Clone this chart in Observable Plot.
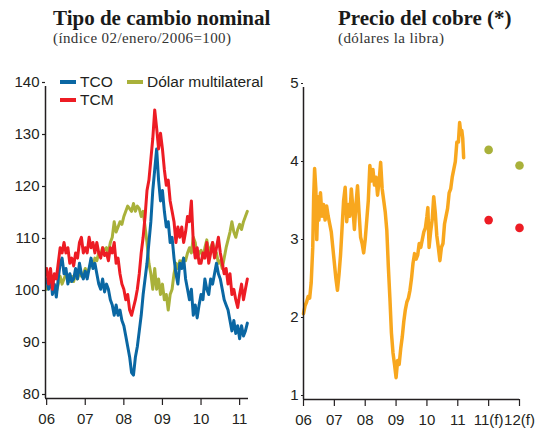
<!DOCTYPE html>
<html><head><meta charset="utf-8">
<script src="https://cdn.jsdelivr.net/npm/d3@7"></script>
<script src="https://cdn.jsdelivr.net/npm/@observablehq/plot@0.6"></script>
<style>
body{margin:0;background:#fff;width:547px;height:428px;overflow:hidden;position:relative;font-family:"Liberation Sans",sans-serif;}
.title{position:absolute;font-family:"Liberation Serif",serif;font-weight:bold;font-size:21px;line-height:21px;color:#1a1a1a;white-space:nowrap;}
.sub{position:absolute;font-family:"Liberation Serif",serif;font-size:15px;line-height:15px;letter-spacing:0.4px;color:#333;white-space:nowrap;}
#left{position:absolute;left:0;top:60px;}
#right{position:absolute;left:280px;top:60px;}
.leg{position:absolute;height:18px;line-height:18px;font-size:15.5px;color:#231f20;display:flex;align-items:center;white-space:nowrap;}
.sw{display:inline-block;width:16px;height:4px;margin-right:4px;}
</style></head>
<body>
<div class="title" style="left:53px;top:8px">Tipo de cambio nominal</div>
<div class="sub" style="left:53px;top:31px">(índice 02/enero/2006=100)</div>
<div class="title" style="left:338px;top:8px">Precio del cobre (*)</div>
<div class="sub" style="left:338px;top:31px">(dólares la libra)</div>
<div id="left"></div>
<div id="right"></div>
<div id="legend"></div>
<script>
// ---- Left panel: nominal exchange rates (index 02/01/2006 = 100)
const dates = [
2006.00,2006.05,2006.10,2006.15,2006.20,2006.25,2006.30,2006.35,2006.40,2006.45,
2006.50,2006.55,2006.60,2006.65,2006.70,2006.75,2006.80,2006.85,2006.90,2006.95,
2007.00,2007.05,2007.10,2007.15,2007.20,2007.25,2007.30,2007.35,2007.40,2007.45,
2007.50,2007.55,2007.60,2007.65,2007.70,2007.75,2007.80,2007.85,2007.90,2007.95,
2008.00,2008.05,2008.10,2008.15,2008.20,2008.25,2008.30,2008.35,2008.40,2008.45,
2008.50,2008.55,2008.60,2008.65,2008.70,2008.75,2008.80,2008.85,2008.90,2008.95,
2009.00,2009.05,2009.10,2009.15,2009.20,2009.25,2009.30,2009.35,2009.40,2009.45,
2009.50,2009.55,2009.60,2009.65,2009.70,2009.75,2009.80,2009.85,2009.90,2009.95,
2010.00,2010.05,2010.10,2010.15,2010.20,2010.25,2010.30,2010.35,2010.40,2010.45,
2010.50,2010.55,2010.60,2010.65,2010.70,2010.75,2010.80,2010.85,2010.90,2010.95,
2011.00,2011.05,2011.10,2011.15,2011.20];

const tco = [
103,101,104,100,102,99.5,103,106,107,104,
105,102,104,102.5,103,105,103,106,104,103,
104.5,103,105,107,105,106,104,102,101,103,
100.5,102,101,99,98,96,98,96,97,95,
94,92,90,88,85,84.5,88,90,93,96,
100,103,106,110,114,120,124,128,122,118,
120,116,113,114,110,111,107,104,102,106,
105,107,103,101,99,101,96,98,95.5,98,
100,99,103,101,100,103,102,104,106,104,
103,101,99,98,97,95,93,95,92.5,94,
91.5,94,92,93,94.5];

const tcm = [
105,102,105,101,104,103,106,109,108,110,
108,109,106,107,105.5,108,107,110,111,108,
109,108,111,109,110,108,110,108,107,109,
107.5,108,106.5,109,108,110,106,107,104,102,
101,99,100,97,96,97.5,99,101,104,108,
111,115,120,122,126,130,135.5,132,128,131,
128,124,121,122,118,116,114,110,113,111,
113,110,112,115,114,118,110,107,109,106,
106,108,107,110,106,108,110,107,109,111,
108,106,104,105,102,104,100,101,99,97.5,
100,102,99,101,103];

const dolarMultilateral = [
101,102,101.5,102.5,101,100.5,102,103.5,102,103,
104,103,102.5,103.5,102.5,104,103,104.5,103.5,104,
105,104,105,106,105.5,107,106.5,108,107.5,109,
108.5,109,108,110,111,114,112,113,114,113.5,
115,116,117,116.5,116,117.5,116,117,116.5,115,
116,113,110,106,104,101,105,101,103,100,
102,99,100,97,100,101,104,106,105,106.5,
106,107,106.5,108,109,108,111,110,107,108,
108.5,107,109,110.5,108,109,110,108.5,108,106,
106.5,105,107,109,110.5,112,114,112,111,112.5,
113.5,112.5,114,115,116];

const leftYTicks = [80, 90, 100, 110, 120, 130, 140];
const leftXTicks = [2006, 2007, 2008, 2009, 2010, 2011];
const leftXLabels = ["06", "07", "08", "09", "10", "11"];

// ---- Right panel: copper price (US$ per pound)
const copperDates = [
2006.00,2006.05,2006.10,2006.15,2006.20,2006.25,2006.30,2006.33,2006.36,2006.40,
2006.43,2006.47,2006.50,2006.55,2006.60,2006.65,2006.70,2006.75,2006.80,2006.85,
2006.90,2006.95,2007.00,2007.05,2007.10,2007.15,2007.20,2007.25,2007.30,2007.35,
2007.40,2007.45,2007.50,2007.55,2007.60,2007.65,2007.70,2007.75,2007.80,2007.85,
2007.90,2007.95,2008.00,2008.05,2008.10,2008.15,2008.20,2008.25,2008.30,2008.35,
2008.40,2008.45,2008.50,2008.55,2008.60,2008.65,2008.70,2008.75,2008.80,2008.85,
2008.90,2008.95,2009.00,2009.05,2009.10,2009.15,2009.20,2009.25,2009.30,2009.35,
2009.40,2009.45,2009.50,2009.55,2009.60,2009.65,2009.70,2009.75,2009.80,2009.85,
2009.90,2009.95,2010.00,2010.03,2010.07,2010.12,2010.17,2010.22,2010.27,2010.32,
2010.37,2010.42,2010.47,2010.52,2010.57,2010.62,2010.67,2010.72,2010.77,2010.82,
2010.87,2010.92,2010.97,2011.02,2011.06,2011.10,2011.13,2011.16,2011.19];

const copper = [
2.10,2.20,2.25,2.32,2.30,2.50,2.95,3.60,3.96,3.70,
3.05,3.60,3.30,3.65,3.35,3.50,3.30,3.48,3.35,3.25,
3.15,2.95,2.75,2.55,2.40,2.60,2.85,3.20,3.55,3.72,
3.28,3.50,3.35,3.70,3.45,3.18,3.50,3.74,3.40,3.08,
3.00,2.88,3.05,3.30,3.55,4.00,3.80,3.95,3.75,3.85,
3.62,3.80,4.04,3.70,3.55,3.40,3.17,2.70,2.30,1.85,
1.60,1.45,1.28,1.50,1.45,1.65,1.80,2.00,2.15,2.25,
2.30,2.40,2.55,2.75,2.87,2.80,2.85,3.00,2.95,3.05,
3.15,3.20,3.35,3.46,2.95,3.15,3.30,3.60,3.40,3.10,
2.95,2.78,2.95,3.00,3.25,3.35,3.45,3.65,3.70,3.85,
3.95,4.05,4.30,4.30,4.55,4.40,4.45,4.35,4.10];

const forecastX = [2012, 2013];          // positions of "11(f)" and "12(f)"
const forecastGreen = [4.2, 4.0];
const forecastRed = [3.3, 3.2];

const rightYTicks = [1, 2, 3, 4, 5];
const rightXTicks = [2006, 2007, 2008, 2009, 2010, 2011, 2012, 2013];
const rightXLabels = ["06", "07", "08", "09", "10", "11", "11(f)", "12(f)"];

// ---- Styles
const C_TCO = "#0a67a3", C_TCM = "#ed1c24", C_DM = "#a9b13a", C_CU = "#f8a71e";
const axisColor = "#231f20";

const series = [
  {name: "Dólar multilateral", values: dolarMultilateral, color: C_DM},
  {name: "TCO", values: tco, color: C_TCO},
  {name: "TCM", values: tcm, color: C_TCM}
];
const leftRows = series.flatMap(s => dates.map((d, i) => ({t: d, v: s.values[i], s: s.name})));
const copperRows = copperDates.map((d, i) => ({t: d, v: copper[i]}));

const baseStyle = {fontFamily: "'Liberation Sans', sans-serif", fontSize: "15px", color: axisColor, background: "transparent", overflow: "visible"};

const left = Plot.plot({
  width: 275, height: 368,
  marginLeft: 45, marginRight: 27, marginTop: 26, marginBottom: 30,
  style: baseStyle,
  x: {type: "linear", domain: [2005.97, 2011.23]},
  y: {domain: [80, 140]},
  color: {domain: series.map(s => s.name), range: series.map(s => s.color)},
  marks: [
    Plot.line(leftRows, {x: "t", y: "v", z: "s", stroke: "s", strokeWidth: 3, strokeLinejoin: "round"}),
    Plot.ruleX([2005.97], {stroke: axisColor, strokeWidth: 1.5}),
    Plot.ruleY([80], {stroke: axisColor, strokeWidth: 1.5}),
    Plot.axisY({ticks: leftYTicks, tickSize: 3, tickPadding: 3, dy: -4, label: null, strokeWidth: 1.2,
      tickFormat: d => String(d)}),
    Plot.axisX({ticks: leftXTicks, tickSize: 7, tickPadding: 8, label: null, strokeWidth: 1.2,
      tickFormat: d => leftXLabels[leftXTicks.indexOf(d)]})
  ]
});
document.getElementById("left").appendChild(left);

const right = Plot.plot({
  width: 267, height: 368,
  marginLeft: 23, marginRight: 28, marginTop: 27, marginBottom: 29,
  style: baseStyle,
  x: {type: "linear", domain: [2006, 2013]},
  y: {domain: [1, 5]},
  marks: [
    Plot.line(copperRows, {x: "t", y: "v", stroke: C_CU, strokeWidth: 3.5, strokeLinejoin: "round"}),
    Plot.dot(forecastX, {x: d => d, y: (d, i) => forecastGreen[i], r: 4.3, fill: C_DM}),
    Plot.dot(forecastX, {x: d => d, y: (d, i) => forecastRed[i], r: 4.3, fill: C_TCM}),
    Plot.ruleX([2006], {stroke: axisColor, strokeWidth: 1.5}),
    Plot.ruleY([1], {stroke: axisColor, strokeWidth: 1.5}),
    Plot.axisY({ticks: rightYTicks, tickSize: 2, tickPadding: 3, dy: -4, label: null, strokeWidth: 1.2,
      tickFormat: d => String(d)}),
    Plot.axisX({ticks: rightXTicks, tickSize: 7, tickPadding: 8, label: null, strokeWidth: 1.2,
      tickFormat: d => rightXLabels[rightXTicks.indexOf(d)]})
  ]
});
document.getElementById("right").appendChild(right);

// ---- Legend
const legendItems = [
  {name: "TCO", color: C_TCO, left: 60, top: 73},
  {name: "Dólar multilateral", color: C_DM, left: 127, top: 73},
  {name: "TCM", color: C_TCM, left: 60, top: 91}
];
const lg = document.getElementById("legend");
legendItems.forEach(it => {
  const d = document.createElement("div");
  d.className = "leg";
  d.style.left = it.left + "px";
  d.style.top = it.top + "px";
  const sw = document.createElement("span");
  sw.className = "sw";
  sw.style.background = it.color;
  d.appendChild(sw);
  d.appendChild(document.createTextNode(it.name));
  lg.appendChild(d);
});
</script>
</body></html>
